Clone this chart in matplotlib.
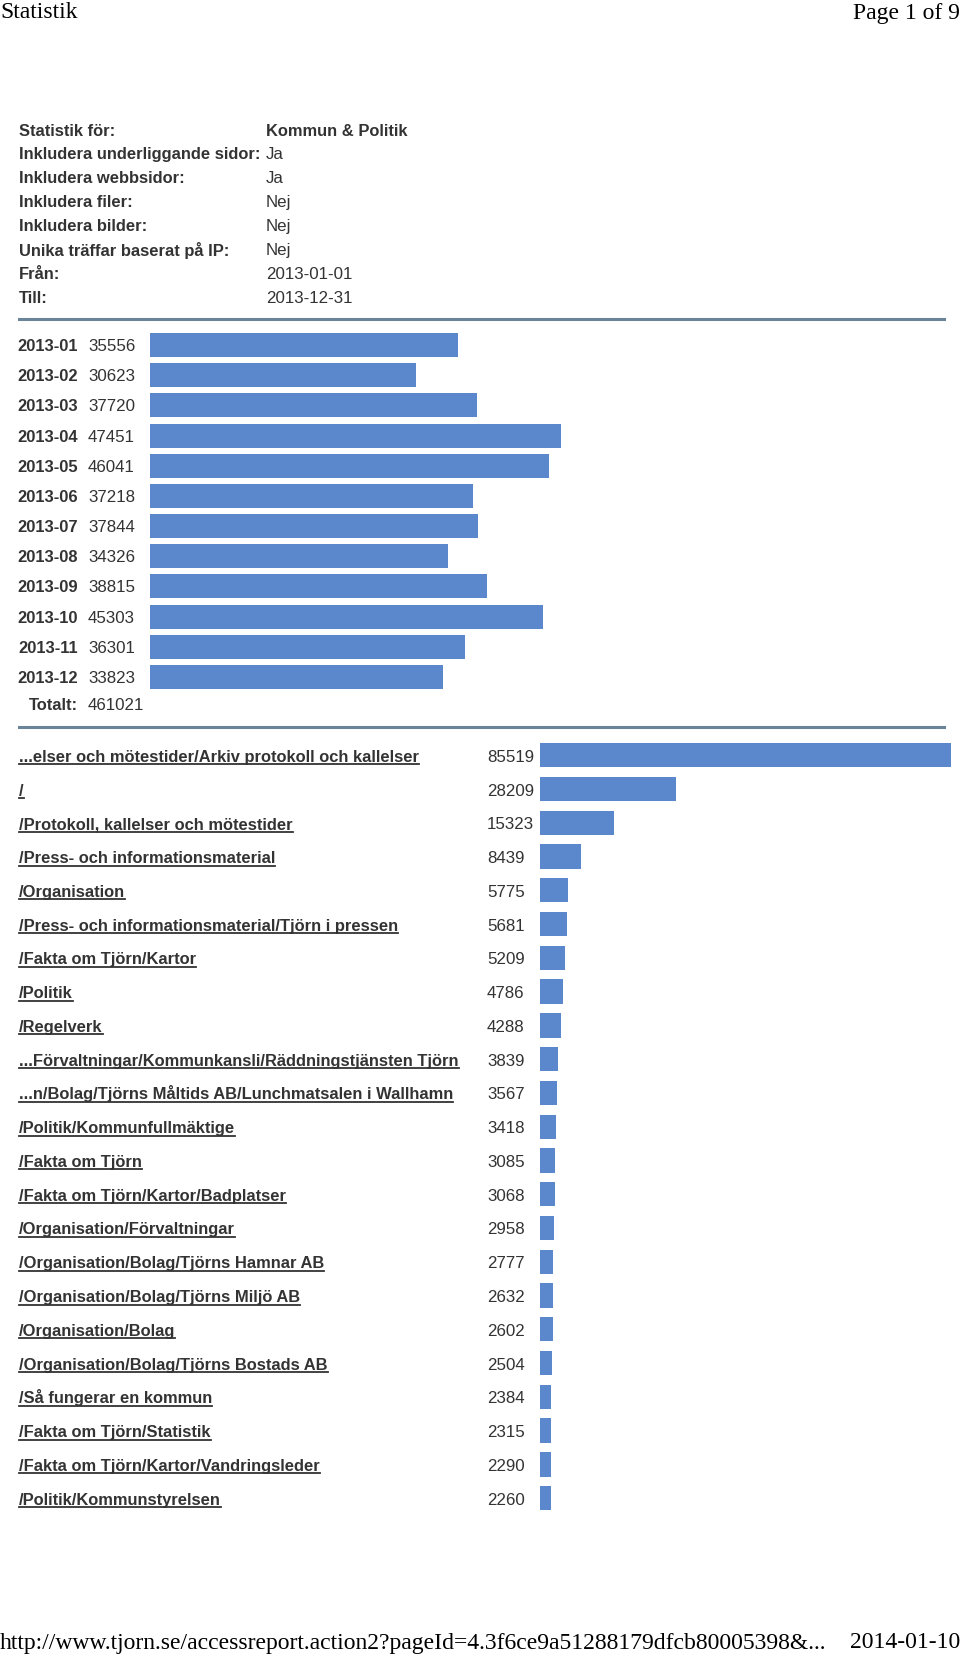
import numpy as np
import matplotlib
matplotlib.use('Agg')
import matplotlib.pyplot as plt
from matplotlib import transforms
from matplotlib.lines import Line2D

W, H = 960, 1654
SANS = ['Liberation Sans', 'DejaVu Sans']
SERIF = ['Liberation Serif', 'DejaVu Serif']
BLUE = '#5b87cc'
TXT = '#333333'
RULE = '#6a8599'
FS = 12.2      # body text size
FS_B = 11.9    # bold text size (the original face is narrow)

info_labels = ['Statistik för:', 'Inkludera underliggande sidor:', 'Inkludera webbsidor:',
               'Inkludera filer:', 'Inkludera bilder:', 'Unika träffar baserat på IP:',
               'Från:', 'Till:']
info_values = ['Kommun & Politik', 'Ja', 'Ja', 'Nej', 'Nej', 'Nej', '2013-01-01', '2013-12-31']

months = ['2013-01', '2013-02', '2013-03', '2013-04', '2013-05', '2013-06',
          '2013-07', '2013-08', '2013-09', '2013-10', '2013-11', '2013-12']
month_hits = [35556, 30623, 37720, 47451, 46041, 37218, 37844, 34326, 38815, 45303, 36301, 33823]
total_hits = 461021

pages = ['...elser och mötestider/Arkiv protokoll och kallelser', '/',
         '/Protokoll, kallelser och mötestider', '/Press- och informationsmaterial',
         '/Organisation', '/Press- och informationsmaterial/Tjörn i pressen',
         '/Fakta om Tjörn/Kartor', '/Politik', '/Regelverk',
         '...Förvaltningar/Kommunkansli/Räddningstjänsten Tjörn',
         '...n/Bolag/Tjörns Måltids AB/Lunchmatsalen i Wallhamn',
         '/Politik/Kommunfullmäktige', '/Fakta om Tjörn', '/Fakta om Tjörn/Kartor/Badplatser',
         '/Organisation/Förvaltningar', '/Organisation/Bolag/Tjörns Hamnar AB',
         '/Organisation/Bolag/Tjörns Miljö AB', '/Organisation/Bolag',
         '/Organisation/Bolag/Tjörns Bostads AB', '/Så fungerar en kommun',
         '/Fakta om Tjörn/Statistik', '/Fakta om Tjörn/Kartor/Vandringsleder',
         '/Politik/Kommunstyrelsen']
page_hits = [85519, 28209, 15323, 8439, 5775, 5681, 5209, 4786, 4288, 3839, 3567, 3418,
             3085, 3068, 2958, 2777, 2632, 2602, 2504, 2384, 2315, 2290, 2260]

fig = plt.figure(figsize=(W / 100, H / 100), dpi=100)
fig.patch.set_facecolor('white')


def fx(px):
    return px / W


def fy(py):
    return 1 - py / H


# page header / footer
fig.text(fx(0), fy(13), 'Statistik', family=SERIF, fontsize=17, va='center', ha='left')
fig.text(fx(960), fy(13), 'Page 1 of 9', family=SERIF, fontsize=17, va='center', ha='right')
fig.text(fx(0), fy(1643), 'http://www.tjorn.se/accessreport.action2?pageId=4.3f6ce9a51288179dfcb80005398&...',
         family=SERIF, fontsize=17, va='center', ha='left')
fig.text(fx(960), fy(1643), '2014-01-10', family=SERIF, fontsize=17, va='center', ha='right')

# info block
for i, (lab, val) in enumerate(zip(info_labels, info_values)):
    y = 131 + 23.96 * i
    fig.text(fx(19), fy(y), lab, family=SANS, fontsize=FS_B, fontweight='bold', color=TXT, va='center')
    fig.text(fx(266), fy(y), val, family=SANS, fontsize=FS_B if i == 0 else FS, color=TXT,
             va='center', fontweight='bold' if i == 0 else 'normal')

# divider rules
for y in (318.5, 727):
    fig.add_artist(Line2D([fx(19), fx(944)], [fy(y), fy(y)], color=RULE, lw=2.2))

# monthly bars
ax1 = fig.add_axes([fx(150), fy(692), 50000 * 0.00867 / W, (692 - 330) / H])
ax1.barh(np.arange(len(months)), month_hits, height=0.8, color=BLUE)
ax1.set_xlim(0, 50000)
ax1.set_ylim(len(months) - 0.5, -0.5)
ax1.axis('off')
tr1 = transforms.blended_transform_factory(fig.transFigure, ax1.transData)
down = transforms.ScaledTranslation(0, -6 / 100, fig.dpi_scale_trans)
for i, (m, v) in enumerate(zip(months, month_hits)):
    ax1.text(fx(78), i, m, transform=tr1 + down, ha='right', va='baseline', family=SANS,
             fontsize=FS_B, fontweight='bold', color=TXT)
    ax1.text(fx(88), i, str(v), transform=tr1 + down, ha='left', va='baseline', family=SANS,
             fontsize=FS, color=TXT)
ax1.text(fx(78), len(months) - 0.1, 'Totalt:', transform=tr1 + down, ha='right', va='baseline',
         family=SANS, fontsize=FS_B, fontweight='bold', color=TXT)
ax1.text(fx(88), len(months) - 0.1, str(total_hits), transform=tr1 + down, ha='left', va='baseline',
         family=SANS, fontsize=FS, color=TXT)

# top pages bars
ax2 = fig.add_axes([fx(540), fy(1515), 90000 * 0.00481 / W, (1515 - 738.4) / H])
ax2.barh(np.arange(len(pages)), page_hits, height=0.72, color=BLUE)
ax2.set_xlim(0, 90000)
ax2.set_ylim(len(pages) - 0.5, -0.5)
ax2.axis('off')
tr2 = transforms.blended_transform_factory(fig.transFigure, ax2.transData)
shift = transforms.ScaledTranslation(0, -6.5 / 100, fig.dpi_scale_trans)
labels = []
for i, (p, v) in enumerate(zip(pages, page_hits)):
    t = ax2.text(fx(19), i, p, transform=tr2 + shift, ha='left', va='baseline', family=SANS,
                 fontsize=FS_B, fontweight='bold', color=TXT)
    labels.append((t, i))
    ax2.text(fx(487), i, str(v), transform=tr2 + shift, ha='left', va='baseline', family=SANS,
             fontsize=FS, color=TXT)

# underline the link labels
fig.canvas.draw()
r = fig.canvas.get_renderer()
for t, i in labels:
    bb = t.get_window_extent(r)
    base = (tr2 + shift).transform((fx(19), i))[1] - 2.5
    fig.add_artist(Line2D([bb.x0 / W, bb.x1 / W], [base / H, base / H], color=TXT, lw=1.3))

fig.savefig('out.png', dpi=100, facecolor='white')
